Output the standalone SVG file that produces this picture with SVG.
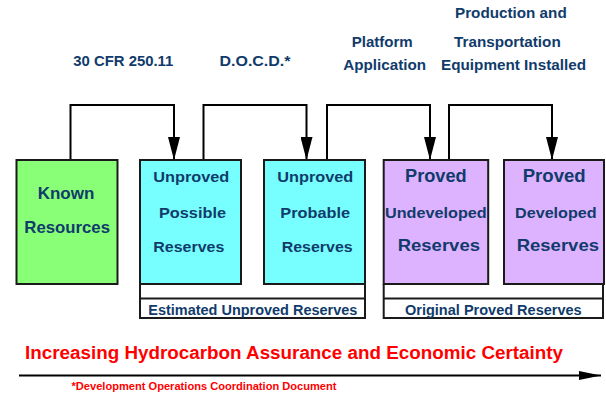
<svg xmlns="http://www.w3.org/2000/svg" width="606" height="396" viewBox="0 0 606 396">
<style>
text{font-family:"Liberation Sans",Arial,sans-serif;font-weight:bold;fill:#103b6b}
.t15{font-size:15px}
.t16{font-size:16.5px}
.t18{font-size:18px}
.br{font-size:13.8px}
.red{fill:#ff0000}
.box{stroke:#1a1a1a;stroke-width:2}
.conn{fill:none;stroke:#000;stroke-width:2}
.brk{fill:none;stroke:#1a1a1a;stroke-width:2}
</style>
<defs>
<marker id="ah" markerUnits="userSpaceOnUse" markerWidth="23" markerHeight="12" refX="23" refY="6" orient="auto">
<path d="M0,0 L23,6 L0,12 z" fill="#000"/>
</marker>
<marker id="ah2" markerUnits="userSpaceOnUse" markerWidth="22" markerHeight="9" refX="22" refY="4.5" orient="auto">
<path d="M0,0 L22,4.5 L0,9 z" fill="#000"/>
</marker>
</defs>
<rect width="606" height="396" fill="#fff"/>

<g id="labels-top">
<text class="t15" x="73.3" y="66" textLength="100" lengthAdjust="spacingAndGlyphs">30 CFR 250.11</text>
<text class="t15" x="219.5" y="66" textLength="71" lengthAdjust="spacingAndGlyphs">D.O.C.D.*</text>
<text class="t15" x="351.7" y="46.7" textLength="61" lengthAdjust="spacingAndGlyphs">Platform</text>
<text class="t15" x="343.3" y="69.5" textLength="82.7" lengthAdjust="spacingAndGlyphs">Application</text>
<text class="t15" x="455" y="18.3" textLength="111.7" lengthAdjust="spacingAndGlyphs">Production and</text>
<text class="t15" x="454" y="46.7" textLength="106.7" lengthAdjust="spacingAndGlyphs">Transportation</text>
<text class="t15" x="441" y="69.5" textLength="145" lengthAdjust="spacingAndGlyphs">Equipment Installed</text>
</g>

<g id="connectors">
<path class="conn" d="M70.5,160 V105 H174 V160" marker-end="url(#ah)"/>
<path class="conn" d="M203.5,160 V105 H306.5 V160" marker-end="url(#ah)"/>
<path class="conn" d="M327,160 V105 H430 V160" marker-end="url(#ah)"/>
<path class="conn" d="M449,160 V105 H552 V160" marker-end="url(#ah)"/>
</g>

<g id="known-resources">
<rect class="box" x="16.5" y="160" width="101" height="124" fill="#88ff77"/>
<text class="t16" x="37.7" y="199.3" textLength="56.7" lengthAdjust="spacingAndGlyphs">Known</text>
<text class="t16" x="24.3" y="232.7" textLength="85.7" lengthAdjust="spacingAndGlyphs">Resources</text>
</g>

<g id="unproved-possible">
<rect class="box" x="140" y="160" width="101" height="124" fill="#77ffff"/>
<text class="t15" x="153.3" y="181.7" textLength="76" lengthAdjust="spacingAndGlyphs">Unproved</text>
<text class="t15" x="159" y="217.7" textLength="67" lengthAdjust="spacingAndGlyphs">Possible</text>
<text class="t15" x="153.3" y="251.7" textLength="71" lengthAdjust="spacingAndGlyphs">Reserves</text>
</g>

<g id="unproved-probable">
<rect class="box" x="264" y="160" width="101" height="124" fill="#77ffff"/>
<text class="t15" x="277.3" y="181.7" textLength="76" lengthAdjust="spacingAndGlyphs">Unproved</text>
<text class="t15" x="280.3" y="217.7" textLength="69.7" lengthAdjust="spacingAndGlyphs">Probable</text>
<text class="t15" x="281.7" y="251.7" textLength="71" lengthAdjust="spacingAndGlyphs">Reserves</text>
</g>

<g id="proved-undeveloped">
<rect class="box" x="383.7" y="160" width="104.5" height="124" fill="#ddb3ff"/>
<text class="t18" x="405" y="181.7" textLength="61.7" lengthAdjust="spacingAndGlyphs">Proved</text>
<text class="t15" x="385" y="217.7" textLength="101.7" lengthAdjust="spacingAndGlyphs">Undeveloped</text>
<text class="t16" x="397.7" y="251" textLength="82.3" lengthAdjust="spacingAndGlyphs">Reserves</text>
</g>

<g id="proved-developed">
<rect class="box" x="504" y="160" width="100" height="124" fill="#ddb3ff"/>
<text class="t18" x="522.7" y="181.7" textLength="63" lengthAdjust="spacingAndGlyphs">Proved</text>
<text class="t15" x="515" y="217.7" textLength="81.7" lengthAdjust="spacingAndGlyphs">Developed</text>
<text class="t16" x="516.7" y="251" textLength="82.3" lengthAdjust="spacingAndGlyphs">Reserves</text>
</g>

<g id="estimated-unproved-reserves">
<path class="brk" d="M140,284 V318 H365 V284 M140,298.5 H365"/>
<text class="br" x="148.3" y="315" textLength="209" lengthAdjust="spacingAndGlyphs">Estimated Unproved Reserves</text>
</g>

<g id="original-proved-reserves">
<path class="brk" d="M383.7,284 V318 H603 V284 M383.7,298.5 H603"/>
<text class="br" x="405" y="315" textLength="176.7" lengthAdjust="spacingAndGlyphs">Original Proved Reserves</text>
</g>

<g id="certainty-axis">
<text class="red" style="font-size:17.5px" x="25" y="359" textLength="538" lengthAdjust="spacingAndGlyphs">Increasing Hydrocarbon Assurance and Economic Certainty</text>
<path class="conn" d="M19,375.5 H601" marker-end="url(#ah2)"/>
<text class="red" style="font-size:11px" x="71.5" y="390" textLength="265" lengthAdjust="spacingAndGlyphs">*Development Operations Coordination Document</text>
</g>
</svg>
